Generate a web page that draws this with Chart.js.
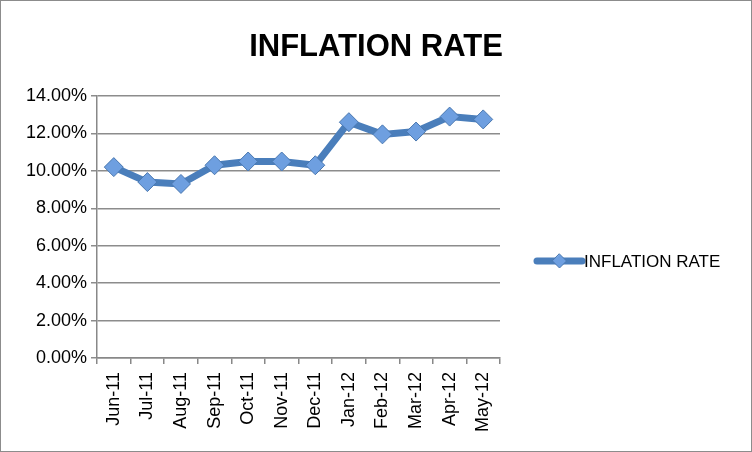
<!DOCTYPE html>
<html>
<head>
<meta charset="utf-8">
<script src="https://cdn.jsdelivr.net/npm/chart.js@4/dist/chart.umd.min.js"></script>
<style>
  html, body { margin: 0; padding: 0; background: #fff; }
  #wrap { width: 752px; height: 452px; position: relative; }
</style>
</head>
<body>
<div id="wrap"><canvas id="chart" width="752" height="452"></canvas></div>
<script>
  const months = ["Jun-11", "Jul-11", "Aug-11", "Sep-11", "Oct-11", "Nov-11",
                  "Dec-11", "Jan-12", "Feb-12", "Mar-12", "Apr-12", "May-12"];
  const inflation = [10.2, 9.4, 9.3, 10.3, 10.5, 10.5, 10.3, 12.6, 11.95, 12.1, 12.9, 12.75];
  const seriesName = "INFLATION RATE";
  const yMin = 0, yMax = 14, yStep = 2;

  const BLUE = "#4a7ebb";
  const FONT = "'Liberation Sans', Arial, sans-serif";

  // frame, white background and the centred title
  const frame = {
    id: "frame",
    beforeDraw(chart) {
      const c = chart.ctx;
      c.save();
      c.fillStyle = "#fff";
      c.fillRect(0, 0, chart.width, chart.height);
      c.strokeStyle = "#8c8c8c";
      c.lineWidth = 1;
      c.strokeRect(0.5, 0.5, chart.width - 1, chart.height - 1);
      c.fillStyle = "#000";
      c.font = "bold 31px " + FONT;
      c.textAlign = "center";
      c.textBaseline = "middle";
      c.fillText(seriesName, chart.width / 2, 47);
      c.restore();
    }
  };

  // legend drawn by hand: line with diamond, then the label
  const sideLegend = {
    id: "sideLegend",
    afterDraw(chart) {
      const c = chart.ctx;
      const y = 261, x0 = 537, x1 = 582;
      c.save();
      c.strokeStyle = BLUE;
      c.lineWidth = 7;
      c.lineCap = "round";
      c.beginPath(); c.moveTo(x0, y); c.lineTo(x1, y); c.stroke();
      const mx = (x0 + x1) / 2, r = 7;
      c.beginPath();
      c.moveTo(mx, y - r); c.lineTo(mx + r, y); c.lineTo(mx, y + r); c.lineTo(mx - r, y);
      c.closePath();
      c.fillStyle = "#6e9fe0"; c.fill();
      c.lineWidth = 1; c.strokeStyle = "#4a78b0"; c.stroke();
      c.fillStyle = "#000";
      c.font = "17px " + FONT;
      c.textBaseline = "middle";
      c.textAlign = "left";
      c.fillText(seriesName, x1 + 2, y + 1);
      c.restore();
    }
  };

  new Chart(document.getElementById("chart"), {
    type: "line",
    data: {
      labels: months,
      datasets: [{
        label: seriesName,
        data: inflation,
        borderColor: BLUE,
        borderWidth: 7,
        tension: 0,
        pointStyle: "rectRot",
        pointRadius: 9.5,
        pointHoverRadius: 9.5,
        pointBackgroundColor: "#6e9fe0",
        pointBorderColor: "#4a78b0",
        pointBorderWidth: 1
      }]
    },
    options: {
      responsive: false,
      animation: false,
      devicePixelRatio: 1,
      layout: { padding: { left: 0, right: 252, top: 96, bottom: 0 } },
      plugins: {
        legend: { display: false },
        tooltip: { enabled: false },
        title: { display: false }
      },
      scales: {
        x: {
          offset: true,
          afterFit: s => { s.height = 94; },
          grid: {
            display: true,
            drawOnChartArea: false,
            drawTicks: true,
            tickLength: 6,
            color: "#888",
            lineWidth: 1.5,
            offset: true
          },
          border: { color: "#888", width: 1.5 },
          ticks: {
            color: "#000",
            font: { family: FONT, size: 18 },
            minRotation: 90,
            maxRotation: 90,
            autoSkip: false,
            padding: 8
          }
        },
        y: {
          min: yMin,
          max: yMax,
          afterFit: s => { s.width = 97; },
          grid: {
            color: "#8c8c8c",
            lineWidth: 1.5,
            tickLength: 6
          },
          border: { color: "#888", width: 1.5 },
          ticks: {
            stepSize: yStep,
            color: "#000",
            font: { family: FONT, size: 18 },
            padding: 4,
            callback: v => v.toFixed(2) + "%"
          }
        }
      }
    },
    plugins: [frame, sideLegend]
  });
</script>
</body>
</html>
